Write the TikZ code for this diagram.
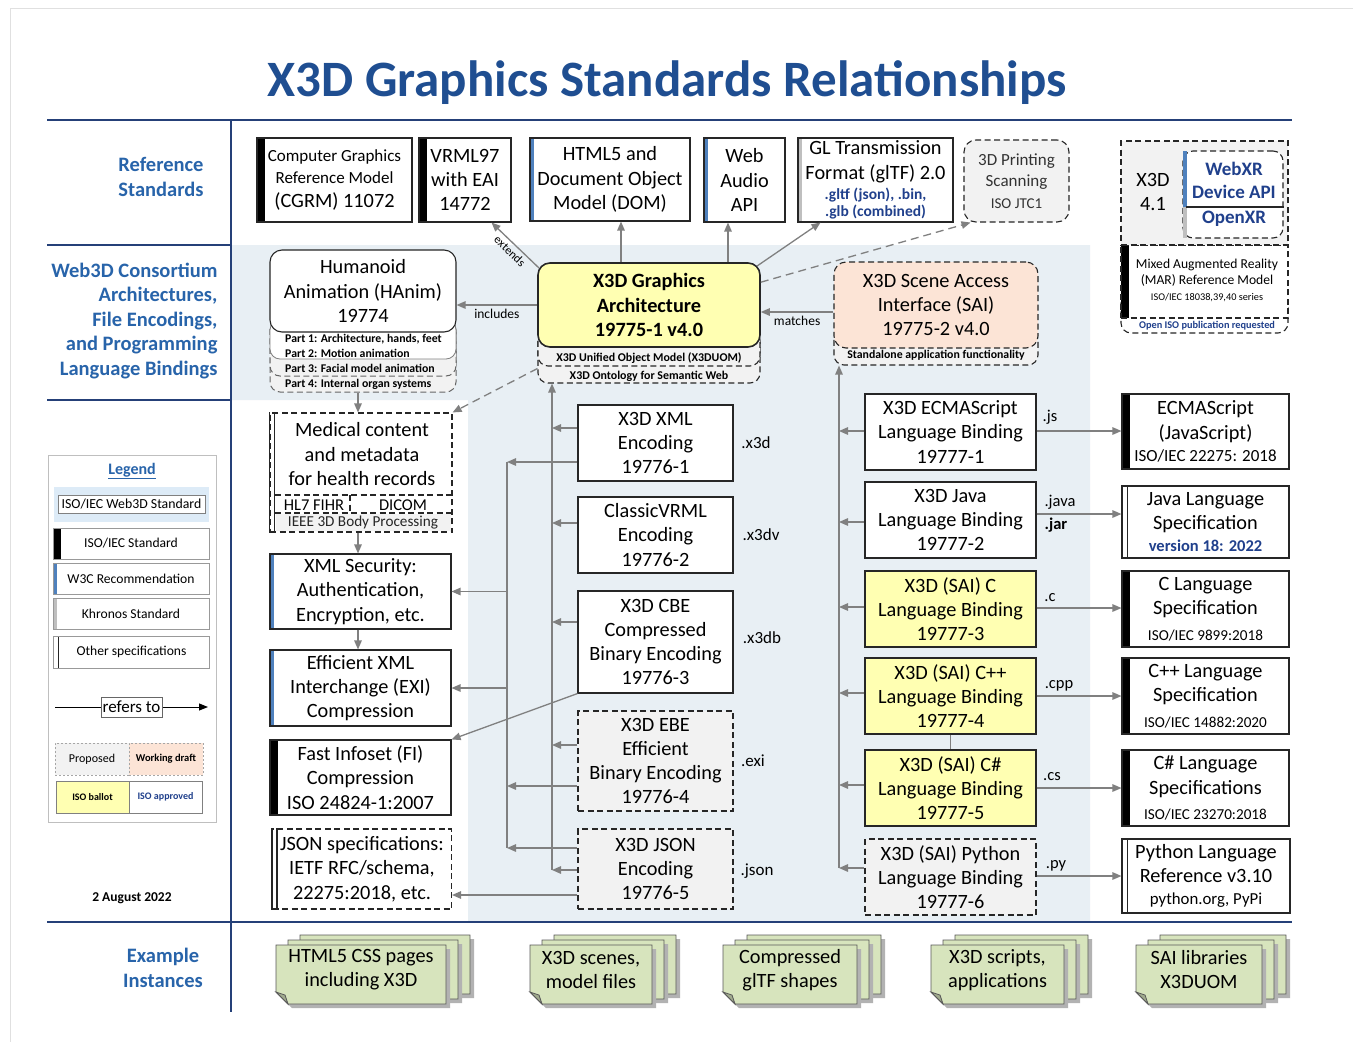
\documentclass[tikz,border=0pt]{standalone}
\usepackage{fontspec}
\setmainfont{Carlito}
\usetikzlibrary{arrows.meta,calc}
\definecolor{titleblue}{RGB}{31,78,145}
\definecolor{labblue}{RGB}{40,100,170}
\definecolor{rulec}{RGB}{37,64,120}
\definecolor{bgc}{RGB}{232,239,244}
\definecolor{yel}{RGB}{255,255,178}
\definecolor{peach}{RGB}{252,228,214}
\definecolor{propgray}{RGB}{242,242,242}
\definecolor{w3cblue}{RGB}{79,129,189}
\definecolor{khrgray}{RGB}{191,191,191}
\definecolor{arrgray}{RGB}{128,128,128}
\definecolor{notec}{RGB}{215,228,189}
\definecolor{smallblue}{RGB}{32,64,140}
\definecolor{legblue}{RGB}{221,235,247}
\newcommand{\fs}[2]{\fontsize{#1}{#2}\selectfont}
\newcommand{\sheet}[3]{%
  \fill[black!30] (#1+4,#2+4) -- (#1+#3+4,#2+4) -- (#1+#3+4,#2+63) -- (#1+16,#2+63) -- (#1+4,#2+51) -- cycle;
  \draw[black!65, line width=0.8pt, fill=notec] (#1,#2) -- (#1+#3,#2) -- (#1+#3,#2+59) -- (#1+12,#2+59) -- (#1,#2+47) -- cycle;
  \draw[black!65, line width=0.8pt, fill=notec!75!black] (#1,#2+47) -- (#1+9,#2+50) -- (#1+12,#2+59) -- cycle;}
\newcommand{\notestack}[2]{\sheet{#1+24}{935}{#2}\sheet{#1+12}{940}{#2}\sheet{#1}{945}{#2}}
\begin{document}
\begin{tikzpicture}[x=1pt,y=-1pt,
  box/.style={draw=black!85, line width=1.1pt, fill=white, align=center, inner sep=0pt, font=\fs{20.3}{24.3}},
  dsh/.style={dash pattern=on 6pt off 3.5pt},
  dbox/.style={box, dsh, fill=propgray},
  isobar/.style={path picture={\fill[black] (path picture bounding box.north west) rectangle ([xshift=8pt]path picture bounding box.south west);}},
  w3cbar/.style={path picture={\fill[w3cblue] (path picture bounding box.north west) rectangle ([xshift=4pt]path picture bounding box.south west);}},
  khrbar/.style={path picture={\fill[khrgray] (path picture bounding box.north west) rectangle ([xshift=4pt]path picture bounding box.south west);}},
  othbar/.style={path picture={\draw[black!85, line width=1pt, solid] ([xshift=5pt]path picture bounding box.north west) -- ([xshift=5pt]path picture bounding box.south west);}},
  arr/.style={draw=arrgray, line width=1.3pt, -{Triangle[length=9pt,width=7.5pt]}},
  darr/.style={arr, dash pattern=on 8pt off 5pt},
  conn/.style={draw=arrgray, line width=1.3pt},
  ext/.style={font=\fs{17}{20}, inner sep=1pt},
  tiny/.style={font=\bfseries\fs{11.8}{13}, inner sep=0pt},
  sect/.style={font=\bfseries\fs{20.5}{24.5}, text=labblue, align=center},
  rulel/.style={draw=rulec, line width=2.8pt},
  notetxt/.style={font=\fs{20.3}{24}, align=center},
  leg/.style={draw=black!40, line width=0.7pt, fill=white, inner sep=0pt, font=\fs{13.6}{16}, minimum height=31, minimum width=156},
]
\useasboundingbox (0,0) rectangle (1353,1042);
\fill[white] (0,0) rectangle (1353,1042);
\draw[black!12, line width=1pt] (10,8) rectangle (1360,1050);
\fill[bgc] (232,245) -- (1090,245) -- (1090,922) -- (468,922) -- (468,400) -- (232,400) -- cycle;

% title and rules
\node[font=\bfseries\fs{51}{60}, text=titleblue] (title) at (667,83) {X3D Graphics Standards Relationships};
\draw[rulel] (47,120) -- (1292,120);
\draw[rulel] (47,245) -- (230,245);
\draw[rulel] (47,400) -- (230,400);
\draw[rulel] (47,922) -- (1292,922);
\draw[draw=rulec, line width=2pt] (231,120) -- (231,1012);

\node[sect] (secref) at (161,177) {Reference\\Standards};
\node[sect, align=right, anchor=east] (secweb) at (221,321) {Web3D Consortium\\Architectures,\\File Encodings,\\and Programming\\Language Bindings};
\node[sect] (secex) at (163,968) {Example\\Instances};
\node[font=\bfseries\fs{13.5}{15}] (date) at (132,898) {2 August 2022};

% reference standards row
\node[box, isobar, minimum width=155, minimum height=84] (cgrm) at (334.5,180) {\fs{17}{21}Computer Graphics\\[-3pt]\fs{17}{21}Reference Model\\(CGRM) 11072};
\node[box, isobar, minimum width=92, minimum height=84] (vrml) at (465,180) {VRML97\\with EAI\\14772};
\node[box, w3cbar, minimum width=160, minimum height=83] (html) at (610,179.5) {HTML5 and\\Document Object\\Model (DOM)};
\node[box, w3cbar, minimum width=81, minimum height=84] (audio) at (744.5,180) {Web\\Audio\\API};
\node[box, khrbar, minimum width=155, minimum height=84] (gltf) at (875.5,180) {GL Transmission\\Format (glTF) 2.0\\[-4pt]\bfseries\fs{15.5}{17}\color{smallblue}.gltf (json), .bin,\\[-7pt]\bfseries\fs{15.5}{17}\color{smallblue}.glb (combined)};
\node[dbox, rounded corners=12, minimum width=105, minimum height=82, font=\fs{17}{21}, text=black!80] (print) at (1016.5,181) {3D Printing\\Scanning\\[1pt]\fs{15}{17}ISO JTC1};

% X3D 4.1 / MAR group
\node[dbox, fill=white, rounded corners=10, minimum width=167, minimum height=40] (marbot) at (1204.5,313) {};
\node[dbox, fill=white, isobar, minimum width=167, minimum height=73] (mar) at (1204.5,281.5) {};
\node[dbox, minimum width=167, minimum height=104] (x3dfour) at (1204.5,193) {};
\node[dbox, fill=white, rounded corners=10, minimum width=100, minimum height=87] (xr) at (1233,194.5) {};
\fill[w3cblue] (1183,151) rectangle (1186.5,207);
\fill[khrgray] (1183,207) rectangle (1186.5,238);
\draw[black!85, line width=1.1pt] (1186,207) -- (xr.east |- 0,207);
\node[font=\fs{20.3}{24}, align=center] (x3dfourt) at (1153,192) {X3D\\4.1};
\node[font=\bfseries\fs{19}{23}, text=smallblue, align=center] (webxr) at (1234,180.5) {WebXR\\Device API};
\node[font=\bfseries\fs{19}{23}, text=smallblue] (openxr) at (1234,219) {OpenXR};
\node[font=\fs{13.6}{16}, align=center] (martxt) at (1207,273) {Mixed Augmented Reality\\(MAR) Reference Model};
\node[font=\fs{10.3}{12}] (marno) at (1207,298) {ISO/IEC 18038,39,40 series};
\node[font=\bfseries\fs{10.3}{12}, text=smallblue] (maropen) at (1207,326) {Open ISO publication requested};

% HAnim
\node[draw=black!60, dsh, line width=1pt, fill=propgray, rounded corners=10, minimum width=186, minimum height=72] (hparts) at (363,356) {};
\node[draw=black!60, dsh, line width=1pt, fill=propgray, rounded corners=10, minimum width=186, minimum height=56] (hpartc) at (363,348) {};
\node[draw=black!50, line width=0.8pt, fill=white, rounded corners=10, minimum width=186, minimum height=39] (hpartb) at (363,339.5) {};
\node[box, rounded corners=12, minimum width=186, minimum height=82] (hanim) at (363,291) {Humanoid\\Animation (HAnim)\\19774};
\node[tiny, anchor=west] (hpa) at (285,339) {Part 1: Architecture, hands, feet};
\node[tiny, anchor=west] (hpb) at (285,353) {Part 2: Motion animation};
\node[tiny, anchor=west] (hpc) at (285,368) {Part 3: Facial model animation};
\node[tiny, anchor=west] (hpd) at (285,384) {Part 4: Internal organ systems};

% X3D architecture
\node[dbox, rounded corners=10, minimum width=222, minimum height=53] (archsub) at (649,356.5) {};
\node[dbox, rounded corners=10, minimum width=222, minimum height=36] (archsubb) at (649,348) {};
\node[box, fill=yel, rounded corners=12, line width=1.6pt, minimum width=222, minimum height=84, font=\bfseries\fs{20.3}{24.3}] (arch) at (649,305) {X3D Graphics\\Architecture\\19775-1 v4.0};
\node[font=\bfseries\fs{11.9}{13}] (uom) at (649,358) {X3D Unified Object Model (X3DUOM)};
\node[font=\bfseries\fs{11.9}{13}] (onto) at (649,376) {X3D Ontology for Semantic Web};

% SAI
\node[dbox, rounded corners=10, minimum width=204, minimum height=35] (saisub) at (936,347.5) {};
\node[dbox, fill=peach, rounded corners=12, minimum width=204, minimum height=86] (sai) at (936,305) {X3D Scene Access\\Interface (SAI)\\19775-2 v4.0};
\node[font=\bfseries\fs{11.8}{13}] (standalone) at (936,355) {Standalone application functionality};

% left column
\node[box, dsh, minimum width=182, minimum height=119] (medical) at (361,472.5) {};
\fill[propgray] (276,513.5) rectangle (451,531);
\draw[black!85, line width=1.1pt, dsh] (275,495) -- (452,495) (275,513) -- (452,513) (350,495) -- (350,513);
\draw[black!85, line width=1.1pt] (medical.north west) -- (medical.south west) ($(medical.north west)+(5,0)$) -- ($(medical.south west)+(5,0)$);
\node[font=\fs{20.3}{24.5}, align=center] (medtxt) at (362,454.5) {Medical content\\and metadata\\for health records};
\node[font=\fs{16.5}{18}] (hlseven) at (314,505) {HL7 FIHR};
\node[font=\fs{16.5}{18}] (dicom) at (403,505) {DICOM};
\node[font=\fs{15.2}{17}, text=black!85] (ieee) at (363,523) {IEEE 3D Body Processing};

\node[box, w3cbar, minimum width=181, minimum height=75] (xmlsec) at (360.5,591.5) {XML Security:\\Authentication,\\Encryption, etc.};
\node[box, w3cbar, minimum width=181, minimum height=76] (exi) at (360.5,688) {Efficient XML\\Interchange (EXI)\\Compression};
\node[box, isobar, minimum width=181, minimum height=75] (fi) at (360.5,777.5) {Fast Infoset (FI)\\Compression\\ISO 24824-1:2007};
\node[box, dsh, minimum width=179, minimum height=80] (jsonspec) at (362,869) {JSON specifications:\\IETF RFC/schema,\\22275:2018, etc.};
\draw[black!85, line width=1.1pt] (jsonspec.north west) -- (jsonspec.south west) ($(jsonspec.north west)+(5,0)$) -- ($(jsonspec.south west)+(5,0)$);

% encodings
\node[box, minimum width=155, minimum height=76] (xmlenc) at (655.5,443) {X3D XML\\Encoding\\19776-1};
\node[box, minimum width=155, minimum height=76] (vrmlenc) at (655.5,535) {ClassicVRML\\Encoding\\19776-2};
\node[box, minimum width=155, minimum height=102] (cbe) at (655.5,642) {X3D CBE\\Compressed\\Binary Encoding\\19776-3};
\node[dbox, minimum width=155, minimum height=100] (ebe) at (655.5,761) {X3D EBE\\Efficient\\Binary Encoding\\19776-4};
\node[dbox, minimum width=155, minimum height=80] (jsonenc) at (655.5,869) {X3D JSON\\Encoding\\19776-5};
\node[ext] (lxd) at (756,443) {.x3d};
\node[ext] (lxdv) at (761,535) {.x3dv};
\node[ext] (lxdb) at (762,638) {.x3db};
\node[ext] (lexi) at (753,761) {.exi};
\node[ext] (ljson) at (757,871) {.json};

% bindings
\node[box, minimum width=171, minimum height=76] (ecma) at (950.5,432) {X3D ECMAScript\\Language Binding\\19777-1};
\node[box, minimum width=171, minimum height=76] (java) at (950.5,520) {X3D Java\\Language Binding\\19777-2};
\node[box, fill=yel, minimum width=171, minimum height=76] (cbind) at (950.5,609) {X3D (SAI) C\\Language Binding\\19777-3};
\node[box, fill=yel, minimum width=171, minimum height=76] (cpp) at (950.5,696) {X3D (SAI) C++\\Language Binding\\19777-4};
\node[box, fill=yel, minimum width=171, minimum height=76] (csharp) at (950.5,788) {X3D (SAI) C\#\\Language Binding\\19777-5};
\node[dbox, minimum width=171, minimum height=76] (py) at (950.5,877) {X3D (SAI) Python\\Language Binding\\19777-6};
\node[ext, font=\fs{16.5}{19}] (ljs) at (1050,417) {.js};
\node[ext, font=\fs{16.5}{19}] (ljava) at (1060,502) {.java};
\node[ext, font=\bfseries\fs{16.5}{19}] (ljar) at (1056,525) {.jar};
\node[ext, font=\fs{16.5}{19}] (lc) at (1050,598) {.c};
\node[ext, font=\fs{16.5}{19}] (lcpp) at (1059,686) {.cpp};
\node[ext, font=\fs{16.5}{19}] (lcs) at (1052,777) {.cs};
\node[ext, font=\fs{16.5}{19}] (lpy) at (1056,866) {.py};

% specs
\node[box, isobar, minimum width=167, minimum height=75] (ecmaspec) at (1205.5,431.5) {ECMAScript\\(JavaScript)\\[-2pt]\fs{17}{18}ISO/IEC 22275: 2018};
\node[box, othbar, minimum width=167, minimum height=72] (javaspec) at (1205.5,522) {Java Language\\Specification\\[-2pt]\bfseries\fs{16.5}{18}\color{smallblue}version 18: 2022};
\node[box, isobar, minimum width=167, minimum height=76] (cspec) at (1205.5,609) {C Language\\Specification\\[1pt]\fs{15.2}{16}ISO/IEC 9899:2018};
\node[box, isobar, minimum width=167, minimum height=76] (cppspec) at (1205.5,696) {C++ Language\\Specification\\[1pt]\fs{15.2}{16}ISO/IEC 14882:2020};
\node[box, isobar, minimum width=167, minimum height=76] (csspec) at (1205.5,788) {C\# Language\\Specifications\\[1pt]\fs{15.2}{16}ISO/IEC 23270:2018};
\node[box, othbar, minimum width=168, minimum height=74] (pyspec) at (1206,876) {Python Language\\Reference v3.10\\[-2pt]\fs{16.8}{18}python.org, PyPi};

% connectors top band
\draw[arr] ($(arch.north west)+(2,6)$) -- node[below=2pt, sloped, font=\fs{12}{13}, inner sep=1pt] (lext) {extends} ($(vrml.south east)+(-20,0)$);
\draw[arr] ($(arch.north)+(-28,0)$) -- ($(html.south)+(11,0)$);
\draw[arr] ($(arch.north)+(79,0)$) -- ($(audio.south)+(-16.5,0)$);
\draw[arr] ($(arch.north east)+(-4,4)$) -- ($(gltf.south)+(-55,0)$);
\draw[darr] ($(arch.north east)+(0,20)$) -- ($(print.south)+(-46,0)$);
\draw[arr] (arch.west) -- node[below, font=\fs{13.5}{15}] (linc) {includes} (arch.west -| hanim.east);
\coordinate (mm) at ($(sai.west)+(0,7)$);
\draw[arr] (mm) -- node[below, font=\fs{13.5}{15}] (lmat) {matches} (mm -| arch.east);
\draw[arr] ($(hparts.south)+(-5,0)$) -- ($(medical.north)+(-3,0)$);
\draw[darr] ($(archsub.west)+(0,12)$) -- (medical.north east);

% left column arrows
\draw[arr] ($(medical.south)+(-3,0)$) -- ($(xmlsec.north)+(-2.5,0)$);
\draw[arr] ($(xmlsec.south)+(-2.5,0)$) -- ($(exi.north)+(-2.5,0)$);

% encoding buses
\coordinate (busA) at (552,870);
\draw[arr] (busA) -- (busA |- archsub.south);
\foreach \nm/\d in {xmlenc/-15, vrmlenc/-12, cbe/-20, ebe/-16, jsonenc/1}
  \draw[arr] ($(\nm.west)+(0,\d)$) coordinate (t) -- (t -| busA);
\coordinate (busBtop) at (507,462);
\coordinate (busBbot) at (507,848);
\draw[conn] (busBtop) -- (busBbot);
\foreach \nm/\d in {xmlenc/19, ebe/25, jsonenc/-21}
  \draw[arr] ($(\nm.west)+(0,\d)$) coordinate (t) -- (t -| busBtop);
\draw[arr] (busBtop |- xmlsec.east) -- (xmlsec.east);
\draw[arr] (busBtop |- exi.east) -- (exi.east);
\draw[arr] (cbe.south west) -- (fi.north east);
\draw[arr] ($(jsonenc.west)+(0,26)$) coordinate (t) -- (t -| jsonspec.east);

% binding bus
\coordinate (busC) at (839,868);
\draw[arr] (busC) -- (busC |- saisub.south);
\foreach \nm/\d in {ecma/-1, java/2, cbind/-2, cpp/-3, csharp/-3, py/-9}
  \draw[arr] ($(\nm.west)+(0,\d)$) coordinate (t) -- (t -| busC);
\foreach \a/\b/\d in {ecma/ecmaspec/-1, java/javaspec/-6, cbind/cspec/-1, cpp/cppspec/0, csharp/csspec/0, py/pyspec/-1}
  \draw[arr] ($(\a.east)+(0,\d)$) coordinate (t) -- (t -| \b.west);
\draw[conn] (cpp.south) -- (csharp.north);

% legend
\node[draw=black!25, line width=0.8pt, minimum width=168, minimum height=367, inner sep=0pt] (legend) at (132,638.5) {};
\node[font=\bfseries\fs{16}{18}, text=labblue] (legtitle) at (132,471) {\underline{Legend}};
\node[fill=legblue, minimum width=155, minimum height=35, inner sep=0pt] (legwbg) at (131.5,504.5) {};
\node[draw=black!50, line width=0.7pt, fill=white, minimum width=147, minimum height=18, inner sep=0pt, font=\fs{13.8}{15}] (legweb) at (131.5,504) {ISO/IEC Web3D Standard};
\node[leg, isobar] (legiso) at (131,543.5) {ISO/IEC Standard};
\node[leg, w3cbar] (legwc) at (131,578.5) {W3C Recommendation};
\node[leg, khrbar] (legkhr) at (131,613.5) {Khronos Standard};
\node[leg, othbar, minimum height=32] (legoth) at (131.5,652) {Other specifications};
\coordinate (rfa) at (55,707);
\coordinate (rfb) at (208,707);
\draw[black, line width=1pt, -{Triangle[length=9pt,width=7pt]}] (rfa) -- (rfb);
\node[draw=black!60, fill=white, line width=0.8pt, font=\fs{17}{18}, inner sep=1.5pt, minimum height=20] (legref) at (131.5,707) {refers to};
\node[draw=black!35, dash pattern=on 2pt off 2pt, fill=propgray, minimum width=74, minimum height=32, inner sep=0pt, font=\fs{12}{13}] (legprop) at (92,759) {Proposed};
\node[draw=black!35, dash pattern=on 2pt off 2pt, fill=peach, minimum width=74, minimum height=32, inner sep=0pt, font=\bfseries\fs{10.5}{12}] (legwd) at (166,759) {Working draft};
\node[draw=black!50, fill=yel, minimum width=73, minimum height=32, inner sep=0pt, font=\bfseries\fs{10}{12}] (legbal) at (92.5,797) {ISO ballot};
\node[draw=black!50, fill=white, minimum width=73, minimum height=32, inner sep=0pt, font=\bfseries\fs{10}{12}, text=smallblue] (legapp) at (165.5,797) {ISO approved};

% example instances
\notestack{276}{170}
\node[notetxt] (exa) at (361,970) {HTML5 CSS pages\\including X3D};
\notestack{530}{122}
\node[notetxt] (exb) at (591,970) {X3D scenes,\\model files};
\notestack{723}{134}
\node[notetxt] (exc) at (790,970) {Compressed\\glTF shapes};
\notestack{931}{133}
\node[notetxt] (exd) at (997.5,970) {X3D scripts,\\applications};
\notestack{1136}{126}
\node[notetxt] (exe) at (1199,970) {SAI libraries\\X3DUOM};
\end{tikzpicture}
\end{document}
